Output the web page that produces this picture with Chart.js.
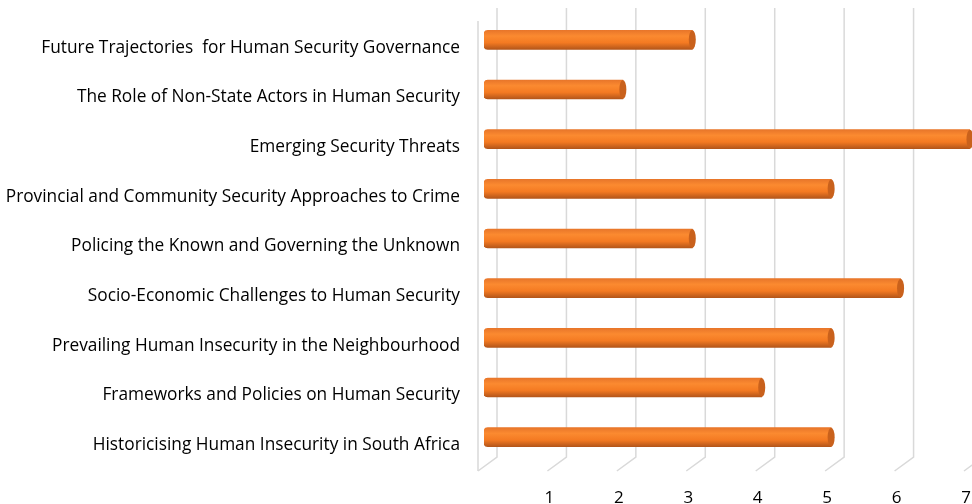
<!DOCTYPE html>
<html>
<head>
<meta charset="utf-8">
<script src="https://cdn.jsdelivr.net/npm/chart.js@4"></script>
<style>
  html, body { margin: 0; padding: 0; background: #fff; }
  #wrap { width: 972px; height: 504px; }
</style>
</head>
<body>
<div id="wrap"><canvas id="chart" width="972" height="504"></canvas></div>
<script>
// chart data
const categories = [
  'Future Trajectories  for Human Security Governance',
  'The Role of Non-State Actors in Human Security',
  'Emerging Security Threats',
  'Provincial and Community Security Approaches to Crime',
  'Policing the Known and Governing the Unknown',
  'Socio-Economic Challenges to Human Security',
  'Prevailing Human Insecurity in the Neighbourhood',
  'Frameworks and Policies on Human Security',
  'Historicising Human Insecurity in South Africa'
];
const counts = [3, 2, 7, 5, 3, 6, 5, 4, 5];
const xTicks = [0, 1, 2, 3, 4, 5, 6, 7];

const FONT = "'Open Sans', sans-serif";
const BAR_H = 19;

// 3d-ish back wall + floor grid
const wallGrid = {
  id: 'wallGrid',
  beforeDatasetsDraw(chart) {
    const ctx = chart.ctx;
    const x = chart.scales.x;
    ctx.save();
    ctx.strokeStyle = '#d9d9d9';
    ctx.lineWidth = 1.5;
    xTicks.forEach((v) => {
      const p = x.getPixelForValue(v);
      ctx.beginPath();
      ctx.moveTo(p + 17, 8);
      ctx.lineTo(p + 17, 457);
      ctx.lineTo(p - 2, 471);
      ctx.stroke();
    });
    // left wall edge
    ctx.beginPath();
    ctx.moveTo(478, 21);
    ctx.lineTo(478, 471);
    ctx.stroke();
    ctx.restore();

    // bars sit a bit back in depth
    ctx.save();
    ctx.translate(4, -8);
  },
  afterDatasetsDraw(chart) {
    const ctx = chart.ctx;
    const meta = chart.getDatasetMeta(0);
    meta.data.forEach((bar) => {
      ctx.beginPath();
      ctx.ellipse(bar.x, bar.y, 3.5, BAR_H / 2, 0, 0, Math.PI * 2);
      ctx.fillStyle = '#c9611c';
      ctx.fill();
    });
    ctx.restore();
  }
};

const ctx = document.getElementById('chart').getContext('2d');

new Chart(ctx, {
  type: 'bar',
  data: {
    labels: categories,
    datasets: [{
      data: counts,
      barThickness: BAR_H,
      borderRadius: { topLeft: 4, bottomLeft: 4, topRight: 0, bottomRight: 0 },
      borderSkipped: false,
      backgroundColor: (c) => {
        const chart = c.chart;
        if (!chart.chartArea) return '#f47c20';
        const y = chart.scales.y.getPixelForValue(c.dataIndex);
        const g = chart.ctx.createLinearGradient(0, y - BAR_H / 2, 0, y + BAR_H / 2);
        g.addColorStop(0, '#e8762a');
        g.addColorStop(0.3, '#fb8a30');
        g.addColorStop(0.65, '#f47a22');
        g.addColorStop(1, '#b4561a');
        return g;
      }
    }]
  },
  options: {
    indexAxis: 'y',
    responsive: false,
    animation: false,
    layout: { padding: { top: 23, right: 6, left: 0, bottom: 0 } },
    plugins: {
      legend: { display: false },
      tooltip: { enabled: false }
    },
    scales: {
      x: {
        min: 0,
        max: 7,
        grid: { display: false, drawTicks: false },
        border: { display: false },
        ticks: {
          stepSize: 1,
          padding: 18,
          color: '#000',
          font: { family: FONT, size: 17 },
          callback: (v) => (v === 0 ? '' : v)
        },
        afterFit: (s) => { s.height = 34; s.paddingLeft = 0; s.paddingRight = 0; }
      },
      y: {
        grid: { display: false, drawTicks: false },
        border: { display: false },
        ticks: {
          padding: 20,
          color: '#000',
          font: { family: FONT, size: 17.3 }
        },
        afterFit: (s) => { s.width = 480; s.paddingTop = 0; s.paddingBottom = 0; }
      }
    }
  },
  plugins: [wallGrid]
});
</script>
</body>
</html>
